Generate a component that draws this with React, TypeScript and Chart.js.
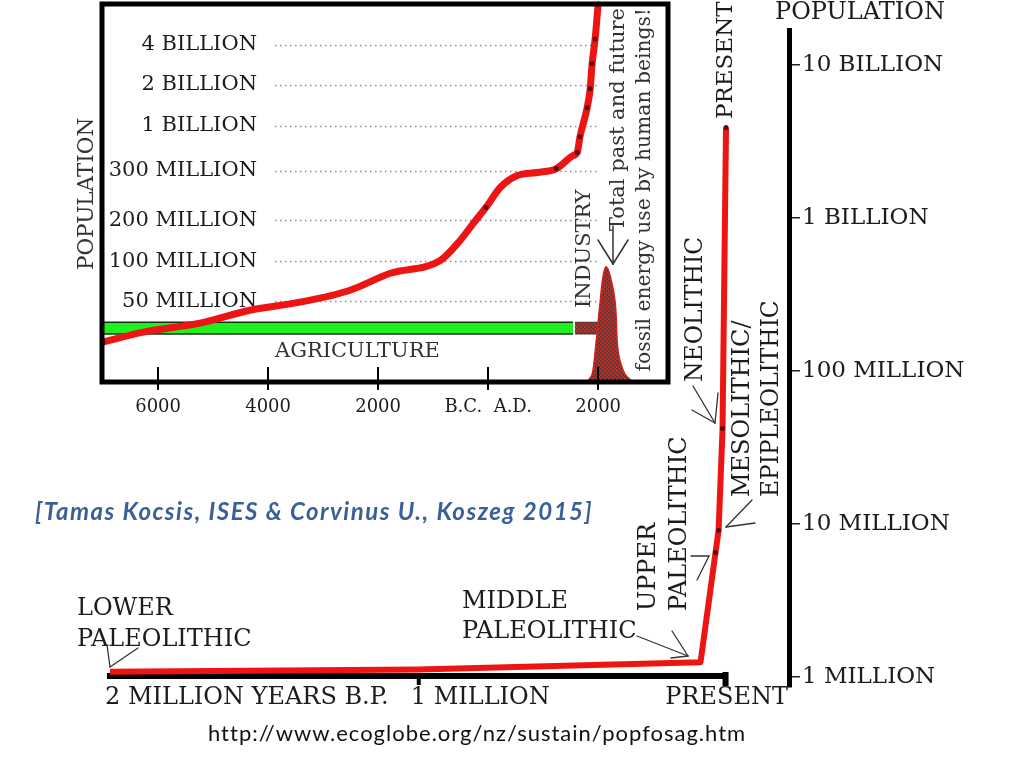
import React, { useEffect, useRef } from 'react';
import { Chart, registerables, LinearScale } from 'chart.js';

// ---------------- Outer chart: population over the last 2 million years ----------------
const OUTER_YEARS_BP = [2000000, 1000000, 87500, 39000, 29000, 16200, 5000];
const OUTER_POPULATION = [1.08e6, 1.12e6, 1.25e6, 6.5e6, 9.1e6, 42e6, 3.9e9];
const OUTER_DOTS = [false, false, false, true, true, true, true];
const OUTER_Y_TICKS = [1e6, 1e7, 1e8, 1e9, 1e10];
const OUTER_Y_LABELS = ['1 MILLION', '10 MILLION', '100 MILLION', '1 BILLION', '10 BILLION'];
const OUTER_X_TICKS = [2000000, 1000000, 0];
const OUTER_X_LABELS = ['2 MILLION YEARS B.P.', '1 MILLION', 'PRESENT'];

// ---------------- Inset chart: population 7000 BC - 2000 AD (millions) ----------------
const INSET_YEARS = [-7000, -6270, -5240, -4330, -3420, -2510, -1780, -870, -510, -270, -40, 220, 530, 890, 1240, 1545, 1620, 1670, 1800, 1855, 1890, 1945, 2000];
const INSET_POP = [24.7, 30.9, 36.4, 44.4, 49.4, 63.8, 85, 102, 151, 193, 226, 266, 290, 296, 331, 533, 580, 829, 1439, 1902, 3050, 4585, 8000];
const INSET_DOTS = [true, false, false, false, false, false, false, false, false, false, true, false, false, false, true, false, true, true, true, true, true, true, true];
const INSET_Y_TICKS = [50, 100, 200, 300, 1000, 2000, 4000];
const INSET_Y_LABELS = ['50 MILLION', '100 MILLION', '200 MILLION', '300 MILLION', '1 BILLION', '2 BILLION', '4 BILLION'];
// the inset's hand-drawn population axis: value (millions) -> fraction of height
const INSET_KNOT_VALUES = [0, 50, 100, 200, 300, 1000, 2000, 4000, 8000];
const INSET_KNOT_FRACTIONS = [0, 0.2137, 0.3193, 0.4274, 0.5594, 0.6781, 0.7863, 0.8918, 1];
const INSET_X_TICKS = [-6000, -4000, -2000, 0, 2000];
const INSET_X_LABELS = ['6000', '4000', '2000', 'B.C.  A.D.', '2000'];

// fossil energy use (relative units)
const FOSSIL_YEARS = [1800, 1890, 1945, 2035, 2090, 2145, 2220, 2310, 2365, 2490, 2640];
const FOSSIL_USE = [0, 0.02, 0.08, 0.21, 0.28, 0.305, 0.28, 0.21, 0.08, 0.02, 0];

// era bands on the inset time line
const AGRICULTURE_SPAN = [-7020, 1545];
const INDUSTRY_SPAN = [1580, 2036];
const BAND_TOP = 0.158;
const BAND_BOTTOM = 0.127;

const SERIF = '"DejaVu Serif", serif';
const INK = '#1c1c1c';
const RED = '#ee1414';
const DOT = '#5a0c0c';
const GREEN = '#1ff01f';
const OUTER_FONT = 24;
const INSET_FONT = 21;

function toFraction(v: number) {
  const kv = INSET_KNOT_VALUES, kf = INSET_KNOT_FRACTIONS;
  if (v <= kv[0]) return kf[0];
  for (let i = 1; i < kv.length; i++) {
    if (v <= kv[i]) {
      return kf[i - 1] + ((v - kv[i - 1]) / (kv[i] - kv[i - 1])) * (kf[i] - kf[i - 1]);
    }
  }
  const n = kv.length - 1;
  return kf[n] + ((v - kv[n]) / (kv[n] - kv[n - 1])) * (kf[n] - kf[n - 1]);
}
function fromFraction(f: number) {
  const kv = INSET_KNOT_VALUES, kf = INSET_KNOT_FRACTIONS;
  for (let i = 1; i < kf.length; i++) {
    if (f <= kf[i]) return kv[i - 1] + ((f - kf[i - 1]) / (kf[i] - kf[i - 1])) * (kv[i] - kv[i - 1]);
  }
  return kv[kv.length - 1];
}

class PiecewiseScale extends LinearScale {
  static id = 'piecewise';
  static defaults = { ticks: { callback: (v: any) => String(v) } };
  determineDataLimits() {
    (this as any).min = 0;
    (this as any).max = 1;
  }
  buildTicks() {
    return INSET_Y_TICKS.map((v) => ({ value: v }));
  }
  getPixelForValue(v: number) {
    return this.getPixelForDecimal(toFraction(v));
  }
  getValueForPixel(p: number) {
    return fromFraction(this.getDecimalForPixel(p));
  }
}

Chart.register(...registerables, PiecewiseScale as any);

function txt(ctx: CanvasRenderingContext2D, s: string, x: number, y: number, size: number, align: CanvasTextAlign = 'left', rot = 0, color = INK) {
  ctx.save();
  ctx.font = `${size}px ${SERIF}`;
  ctx.fillStyle = color;
  ctx.textAlign = align;
  ctx.textBaseline = 'middle';
  ctx.translate(x, y);
  if (rot) ctx.rotate(rot);
  ctx.fillText(s, 0, 0);
  ctx.restore();
}
function lines(ctx: CanvasRenderingContext2D, segs: number[][], w = 1.3, color = '#333') {
  ctx.save();
  ctx.strokeStyle = color;
  ctx.lineWidth = w;
  ctx.lineCap = 'round';
  for (const [a, b, c, d] of segs) {
    ctx.beginPath();
    ctx.moveTo(a, b);
    ctx.lineTo(c, d);
    ctx.stroke();
  }
  ctx.restore();
}
const UP = -Math.PI / 2;

const noPad = (s: any) => {
  s.paddingTop = 0;
  s.paddingBottom = 0;
  s.paddingLeft = 0;
  s.paddingRight = 0;
};

const outerDecor = {
  id: 'outerDecor',
  beforeDatasetsDraw(chart: any) {
    const { ctx } = chart;
    const xs = chart.scales.x, ys = chart.scales.y;
    const yAxis = ys.getPixelForValue(1e6) - 1;
    const x0 = xs.getPixelForValue(OUTER_X_TICKS[0]);
    const x2 = xs.getPixelForValue(OUTER_X_TICKS[2]);
    ctx.save();
    ctx.fillStyle = '#000';
    ctx.fillRect(x0 - 3, yAxis - 3, x2 - x0 + 3, 6);
    const x1 = xs.getPixelForValue(OUTER_X_TICKS[1]);
    ctx.fillRect(x1 - 2, yAxis, 4, 9);
    ctx.fillRect(x2 - 5, yAxis - 4, 6, 14);
    ctx.restore();
  },
  afterDraw(chart: any) {
    const { ctx } = chart;
    const xs = chart.scales.x;
    const F = OUTER_FONT;
    // x-axis labels
    txt(ctx, OUTER_X_LABELS[0], xs.getPixelForValue(OUTER_X_TICKS[0]) - 5, 698, F);
    txt(ctx, OUTER_X_LABELS[1], xs.getPixelForValue(OUTER_X_TICKS[1]) - 8, 698, F);
    txt(ctx, OUTER_X_LABELS[2], xs.getPixelForValue(OUTER_X_TICKS[2]) - 1, 698, F, 'center');
    // titles and era annotations
    txt(ctx, 'POPULATION', 775, 13, F);
    txt(ctx, 'PRESENT', 726, 119, 23, 'left', UP);
    txt(ctx, 'NEOLITHIC', 696, 382, 23.5, 'left', UP);
    txt(ctx, 'MESOLITHIC/', 743, 497, F, 'left', UP);
    txt(ctx, 'EPIPLEOLITHIC', 772, 497, 23.3, 'left', UP);
    txt(ctx, 'UPPER', 649, 611, F, 'left', UP);
    txt(ctx, 'PALEOLITHIC', 680, 611, F, 'left', UP);
    txt(ctx, 'MIDDLE', 462, 602, F);
    txt(ctx, 'PALEOLITHIC', 462, 632, F);
    txt(ctx, 'LOWER', 77, 609, F);
    txt(ctx, 'PALEOLITHIC', 77, 640, F);
    lines(ctx, [
      [693, 386, 715, 423], [692, 410, 715, 423], [718, 393, 715, 423],
      [752, 500, 726, 527], [755, 523, 726, 527],
      [697, 580, 709, 556], [691, 556, 709, 556],
      [637, 636, 688, 656], [672, 631, 688, 656], [671, 658, 688, 656],
      [107, 645, 110, 667], [138, 648, 110, 667],
    ]);
  },
};

const insetDecor = {
  id: 'insetDecor',
  beforeDatasetsDraw(chart: any) {
    const { ctx } = chart;
    const ys = chart.scales.y;
    ctx.save();
    ctx.strokeStyle = '#8c8c8c';
    ctx.lineWidth = 1.5;
    ctx.setLineDash([1.5, 3.5]);
    for (const v of INSET_Y_TICKS) {
      const py = Math.round(ys.getPixelForValue(v)) + 0.5;
      ctx.beginPath();
      ctx.moveTo(275, py);
      ctx.lineTo(598, py);
      ctx.stroke();
    }
    ctx.restore();
  },
  afterDatasetsDraw(chart: any) {
    const { ctx, chartArea: a } = chart;
    const xs = chart.scales.x;
    ctx.save();
    ctx.strokeStyle = '#000';
    ctx.lineWidth = 5;
    ctx.strokeRect(a.left, a.top, a.right - a.left, a.bottom - a.top);
    ctx.lineWidth = 2;
    for (const v of INSET_X_TICKS) {
      const px = Math.round(xs.getPixelForValue(v));
      ctx.beginPath();
      ctx.moveTo(px, a.bottom - 15);
      ctx.lineTo(px, a.bottom + 8);
      ctx.stroke();
    }
    ctx.restore();
    const F = INSET_FONT;
    txt(ctx, 'POPULATION', 87, 270, 21.5, 'left', UP, '#333');
    txt(ctx, 'AGRICULTURE', 275, 352, F, 'left', 0, '#333');
    txt(ctx, 'INDUSTRY', 585, 308, F, 'left', UP, '#333');
    txt(ctx, 'Total past and future', 619, 8, F, 'right', UP, '#333');
    txt(ctx, 'fossil energy use by human beings!', 645, 8, 20.3, 'right', UP, '#333');
    lines(ctx, [[613, 226, 613, 264], [598, 240, 613, 264], [628, 240, 613, 264]], 1.5);
  },
};

function speckle(ctx: CanvasRenderingContext2D) {
  const c = document.createElement('canvas');
  c.width = 4;
  c.height = 4;
  const g = c.getContext('2d')!;
  g.fillStyle = '#cf2424';
  g.fillRect(0, 0, 4, 4);
  g.fillStyle = '#4a3a32';
  g.fillRect(0, 0, 2, 1);
  g.fillRect(2, 2, 2, 1);
  g.fillRect(1, 1, 1, 1);
  g.fillRect(3, 3, 1, 1);
  return ctx.createPattern(c, 'repeat')!;
}

export default function App() {
  const outerRef = useRef<HTMLCanvasElement>(null);
  const insetRef = useRef<HTMLCanvasElement>(null);

  useEffect(() => {
    document.body.style.margin = '0';
    const outer = new Chart(outerRef.current!, {
      type: 'line',
      data: {
        datasets: [
          {
            data: OUTER_YEARS_BP.map((x, i) => ({ x, y: OUTER_POPULATION[i] })),
            borderColor: RED,
            borderWidth: 6,
            borderJoinStyle: 'round',
            tension: 0,
            pointRadius: OUTER_DOTS.map((d) => (d ? 2.5 : 0)),
            pointBackgroundColor: DOT,
            pointBorderWidth: 0,
          },
        ],
      },
      options: {
        animation: false,
        responsive: true,
        maintainAspectRatio: false,
        devicePixelRatio: 1,
        layout: { padding: { left: 110, top: 30, right: 0, bottom: 81 } },
        plugins: { legend: { display: false }, tooltip: { enabled: false } },
        scales: {
          x: { type: 'linear', reverse: true, min: -199000, max: 2000000, display: false },
          y: {
            type: 'logarithmic',
            position: 'right',
            min: 0.86e6,
            max: 1.69e10,
            afterBuildTicks: (s: any) => {
              s.ticks = OUTER_Y_TICKS.map((v) => ({ value: v }));
            },
            afterFit: (s: any) => {
              s.width = 235;
              noPad(s);
            },
            ticks: {
              autoSkip: false,
              padding: 2,
              color: INK,
              font: { family: SERIF, size: 23 },
              callback: (v: any) => {
                const i = OUTER_Y_TICKS.findIndex((t) => Math.abs(t - v) / t < 1e-6);
                return i >= 0 ? OUTER_Y_LABELS[i] : '';
              },
            },
            grid: { drawOnChartArea: false, drawTicks: true, tickLength: 11, color: '#222', lineWidth: 1.5 },
            border: { display: true, color: '#000', width: 5 },
          },
        },
      } as any,
      plugins: [outerDecor],
    });

    const insetCtx = insetRef.current!.getContext('2d')!;
    const pat = speckle(insetCtx);
    const m = document.createElement('canvas').getContext('2d')!;
    m.font = `${INSET_FONT}px ${SERIF}`;
    const widest = Math.max(...INSET_Y_LABELS.map((l) => m.measureText(l).width));

    const band = (span: number[], y: number) => [
      { x: span[0], y },
      { x: span[1], y },
    ];

    const inset = new Chart(insetRef.current!, {
      type: 'line',
      data: {
        datasets: [
          {
            data: INSET_YEARS.map((x, i) => ({ x, y: INSET_POP[i] })),
            yAxisID: 'y',
            borderColor: RED,
            borderWidth: 7,
            cubicInterpolationMode: 'monotone',
            pointRadius: INSET_DOTS.map((d) => (d ? 2.5 : 0)),
            pointBackgroundColor: DOT,
            pointBorderWidth: 0,
            order: 0,
          },
          {
            data: band(AGRICULTURE_SPAN, BAND_TOP),
            yAxisID: 'yAux',
            borderColor: '#143014',
            borderWidth: 1.5,
            pointRadius: 0,
            fill: false,
            order: 3,
          },
          {
            data: band(AGRICULTURE_SPAN, BAND_BOTTOM),
            yAxisID: 'yAux',
            borderColor: '#143014',
            borderWidth: 1.5,
            pointRadius: 0,
            fill: '-1',
            backgroundColor: GREEN,
            order: 3,
          },
          {
            data: band(INDUSTRY_SPAN, BAND_TOP),
            yAxisID: 'yAux',
            borderColor: '#4a2a22',
            borderWidth: 1,
            pointRadius: 0,
            fill: false,
            order: 2,
          },
          {
            data: band(INDUSTRY_SPAN, BAND_BOTTOM),
            yAxisID: 'yAux',
            borderColor: '#4a2a22',
            borderWidth: 1,
            pointRadius: 0,
            fill: '-1',
            backgroundColor: pat,
            order: 2,
          },
          {
            data: FOSSIL_YEARS.map((x, i) => ({ x, y: FOSSIL_USE[i] })),
            yAxisID: 'yAux',
            borderColor: '#d42020',
            borderWidth: 1.5,
            pointRadius: 0,
            tension: 0.35,
            fill: 'origin',
            backgroundColor: pat,
            order: 1,
          },
        ],
      },
      options: {
        animation: false,
        responsive: true,
        maintainAspectRatio: false,
        devicePixelRatio: 1,
        layout: { padding: { left: 102, top: 3, right: 12, bottom: 0 } },
        plugins: { legend: { display: false }, tooltip: { enabled: false } },
        scales: {
          x: {
            type: 'linear',
            position: 'bottom',
            min: -7020,
            max: 3270,
            border: { display: false },
            grid: { display: false, drawTicks: false },
            afterBuildTicks: (s: any) => {
              s.ticks = INSET_X_TICKS.map((v) => ({ value: v }));
            },
            afterFit: (s: any) => {
              s.height = 48;
              noPad(s);
            },
            ticks: {
              autoSkip: false,
              maxRotation: 0,
              padding: 15,
              color: INK,
              font: { family: SERIF, size: 18 },
              callback: (v: any) => {
                const i = INSET_X_TICKS.indexOf(v);
                return i >= 0 ? INSET_X_LABELS[i] : '';
              },
            },
          },
          y: {
            type: 'piecewise',
            position: 'left',
            border: { display: false },
            grid: { display: false, drawTicks: false },
            afterFit: (s: any) => {
              s.width = 0;
              noPad(s);
            },
            ticks: {
              mirror: true,
              crossAlign: 'far',
              padding: 257 - 102 - widest,
              autoSkip: false,
              color: INK,
              font: { family: SERIF, size: INSET_FONT },
              callback: (v: any) => {
                const i = INSET_Y_TICKS.indexOf(v);
                return i >= 0 ? INSET_Y_LABELS[i] : '';
              },
            },
          },
          yAux: { type: 'linear', axis: 'y', position: 'left', min: 0, max: 1, display: false },
        },
      } as any,
      plugins: [insetDecor],
    });

    return () => {
      outer.destroy();
      inset.destroy();
    };
  }, []);

  return (
    <div style={{ position: 'relative', width: 1024, height: 768, background: '#fff', overflow: 'hidden' }}>
      <div style={{ position: 'absolute', left: 0, top: 0, width: 1024, height: 768 }}>
        <canvas ref={outerRef} />
      </div>
      <div style={{ position: 'absolute', left: 0, top: 0, width: 680, height: 430 }}>
        <canvas ref={insetRef} />
      </div>
      <div
        style={{
          position: 'absolute',
          left: 35,
          top: 496,
          fontFamily: 'Lato, "Open Sans", sans-serif',
          fontStyle: 'italic',
          fontWeight: 700,
          fontSize: 24,
          letterSpacing: '1.5px',
          lineHeight: '30px',
          color: '#3b5f98',
          whiteSpace: 'nowrap',
        }}
      >
        [Tamas Kocsis, ISES &amp; Corvinus U., Koszeg 2015]
      </div>
      <div
        style={{
          position: 'absolute',
          left: 208,
          top: 719,
          fontFamily: 'Lato, "Open Sans", sans-serif',
          fontSize: 22,
          letterSpacing: '1px',
          lineHeight: '28px',
          color: '#111',
          whiteSpace: 'nowrap',
        }}
      >
        http://www.ecoglobe.org/nz/sustain/popfosag.htm
      </div>
    </div>
  );
}
